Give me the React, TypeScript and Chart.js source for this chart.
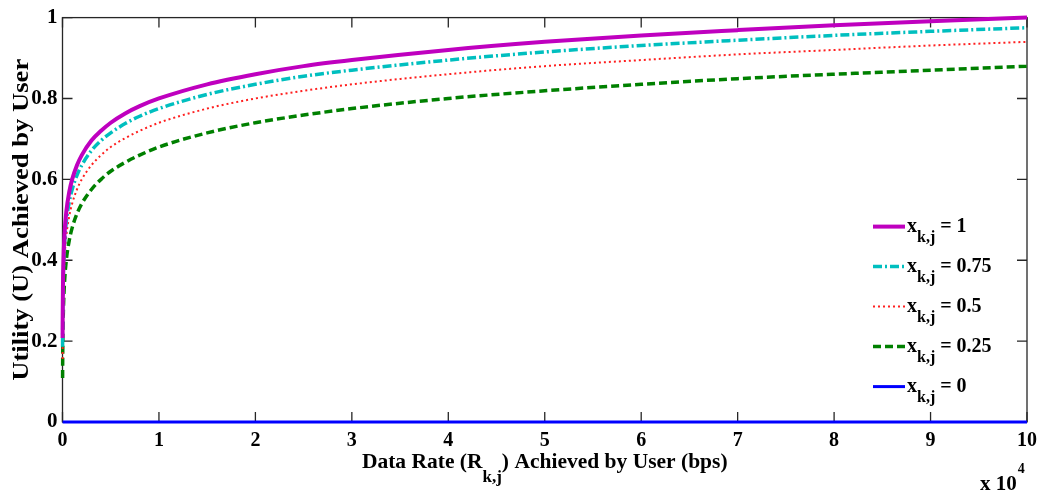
import React, { useEffect, useRef } from "react";
import { Chart, registerables } from "chart.js";

Chart.register(...registerables);

// Data rate R_{k,j} (bps) sample positions
const rates = [
  10, 20, 50, 100, 200, 400, 700, 1000, 1500, 2000, 3000, 4000, 5000, 6500, 8000,
  10000, 15000, 20000, 25000, 30000, 40000, 50000, 60000, 70000, 80000, 90000, 100000,
];

// Utility values for each x_{k,j}
const utilX100 = [
  0.208, 0.264, 0.342, 0.401, 0.461, 0.521, 0.569, 0.600, 0.635, 0.660, 0.696, 0.720, 0.740, 0.763, 0.781,
  0.800, 0.835, 0.860, 0.880, 0.895, 0.920, 0.940, 0.956, 0.969, 0.981, 0.991, 1.0,
];
const utilX075 = [
  0.186, 0.241, 0.317, 0.376, 0.436, 0.496, 0.544, 0.575, 0.610, 0.635, 0.671, 0.696, 0.715, 0.738, 0.756,
  0.775, 0.810, 0.835, 0.855, 0.870, 0.895, 0.915, 0.931, 0.944, 0.956, 0.966, 0.975,
];
const utilX050 = [
  0.156, 0.208, 0.283, 0.342, 0.401, 0.461, 0.509, 0.540, 0.575, 0.600, 0.635, 0.660, 0.680, 0.702, 0.720,
  0.740, 0.775, 0.800, 0.819, 0.835, 0.860, 0.880, 0.895, 0.909, 0.920, 0.931, 0.940,
];
const utilX025 = [
  0.109, 0.156, 0.226, 0.283, 0.342, 0.401, 0.449, 0.480, 0.515, 0.540, 0.575, 0.600, 0.620, 0.642, 0.660,
  0.680, 0.715, 0.740, 0.759, 0.775, 0.800, 0.819, 0.835, 0.849, 0.860, 0.870, 0.880,
];
const utilX000 = [
  0, 0, 0, 0, 0, 0, 0, 0, 0, 0, 0, 0, 0, 0, 0,
  0, 0, 0, 0, 0, 0, 0, 0, 0, 0, 0, 0,
];

const seriesValues = ["1", "0.75", "0.5", "0.25", "0"];
const xTickLabels = ["0", "1", "2", "3", "4", "5", "6", "7", "8", "9", "10"];
const yTickLabels = ["0", "0.2", "0.4", "0.6", "0.8", "1"];

const xTitleParts = ["Data Rate (R", "k,j", ") Achieved by User (bps)"];
const yTitle = "Utility (U) Achieved by User";

const SERIF = "'Liberation Serif', 'Times New Roman', serif";

const framePlugin = {
  id: "matlabFrame",
  beforeDatasetsDraw(chart: any) {
    const { ctx, chartArea: a, scales } = chart;
    ctx.save();
    ctx.strokeStyle = "#262626";
    ctx.lineWidth = 1.3;
    ctx.strokeRect(a.left, a.top, a.right - a.left, a.bottom - a.top);
    const tl = 10;
    ctx.beginPath();
    scales.x.ticks.forEach((t: any) => {
      const px = scales.x.getPixelForValue(t.value);
      ctx.moveTo(px, a.bottom);
      ctx.lineTo(px, a.bottom - tl);
      ctx.moveTo(px, a.top);
      ctx.lineTo(px, a.top + tl);
    });
    scales.y.ticks.forEach((t: any) => {
      const py = scales.y.getPixelForValue(t.value);
      ctx.moveTo(a.left, py);
      ctx.lineTo(a.left + tl, py);
      ctx.moveTo(a.right, py);
      ctx.lineTo(a.right - tl, py);
    });
    ctx.stroke();
    ctx.restore();
  },
};

const textPlugin = {
  id: "matlabText",
  afterDraw(chart: any) {
    const { ctx, chartArea: a } = chart;
    ctx.save();
    ctx.fillStyle = "#000";
    ctx.textBaseline = "alphabetic";
    ctx.textAlign = "left";

    // X title with subscript
    const mainFont = `bold 21.5px ${SERIF}`;
    const subFont = `bold 17px ${SERIF}`;
    ctx.font = mainFont;
    const w0 = ctx.measureText(xTitleParts[0]).width;
    const w2 = ctx.measureText(xTitleParts[2]).width;
    ctx.font = subFont;
    const w1 = ctx.measureText(xTitleParts[1]).width;
    const total = w0 + w1 + w2;
    const cx = (a.left + a.right) / 2;
    let x = cx - total / 2;
    const base = a.bottom + 46;
    ctx.font = mainFont;
    ctx.fillText(xTitleParts[0], x, base);
    x += w0;
    ctx.font = subFont;
    ctx.fillText(xTitleParts[1], x, base + 14);
    x += w1;
    ctx.font = mainFont;
    ctx.fillText(xTitleParts[2], x, base);

    // Y title rotated
    ctx.save();
    ctx.font = `bold 23px ${SERIF}`;
    const yw = ctx.measureText(yTitle).width;
    const targetLen = 322;
    ctx.translate(28, (a.top + a.bottom) / 2);
    ctx.rotate(-Math.PI / 2);
    ctx.scale(targetLen / yw, 1);
    ctx.textAlign = "center";
    ctx.fillText(yTitle, 0, 0);
    ctx.restore();

    // Exponent label x 10^4
    ctx.font = `bold 21px ${SERIF}`;
    ctx.textAlign = "left";
    const expBase = a.bottom + 68;
    const expText = "x 10";
    const ew = ctx.measureText(expText).width;
    const ex = a.right - 47;
    ctx.fillText(expText, ex, expBase);
    ctx.font = `bold 14px ${SERIF}`;
    ctx.fillText("4", ex + ew + 1, expBase - 17);

    // Legend (no box)
    const ds = chart.data.datasets;
    const lx0 = a.right - 154;
    const lx1 = a.right - 122;
    ds.forEach((d: any, i: number) => {
      const ly = a.top + 209 + i * 40;
      ctx.save();
      ctx.strokeStyle = d.borderColor;
      ctx.lineWidth = d.borderWidth;
      ctx.setLineDash(d.borderDash || []);
      ctx.beginPath();
      ctx.moveTo(lx0, ly);
      ctx.lineTo(lx1, ly);
      ctx.stroke();
      ctx.restore();
      let tx = lx1 + 2;
      ctx.font = `bold 20px ${SERIF}`;
      ctx.fillText("x", tx, ly + 5);
      tx += ctx.measureText("x").width;
      ctx.font = `bold 16px ${SERIF}`;
      ctx.fillText("k,j", tx, ly + 15);
      tx += ctx.measureText("k,j").width;
      ctx.font = `bold 20px ${SERIF}`;
      ctx.fillText(" = " + seriesValues[i], tx, ly + 5);
    });
    ctx.restore();
  },
};

export default function App() {
  const canvasRef = useRef<HTMLCanvasElement | null>(null);

  useEffect(() => {
    const canvas = canvasRef.current;
    if (!canvas) return;
    const toPts = (vals: number[]) => rates.map((r, i) => ({ x: r, y: vals[i] }));
    const chart = new Chart(canvas, {
      type: "line",
      data: {
        datasets: [
          {
            label: "x_{k,j} = " + seriesValues[0],
            data: toPts(utilX100),
            borderColor: "#bf00bf",
            borderWidth: 4,
            borderDash: [],
          },
          {
            label: "x_{k,j} = " + seriesValues[1],
            data: toPts(utilX075),
            borderColor: "#00bfbf",
            borderWidth: 3.5,
            borderDash: [9, 3, 2, 3],
          },
          {
            label: "x_{k,j} = " + seriesValues[2],
            data: toPts(utilX050),
            borderColor: "#ff2020",
            borderWidth: 2,
            borderDash: [2, 3],
          },
          {
            label: "x_{k,j} = " + seriesValues[3],
            data: toPts(utilX025),
            borderColor: "#008000",
            borderWidth: 3.5,
            borderDash: [8, 4],
          },
          {
            label: "x_{k,j} = " + seriesValues[4],
            data: toPts(utilX000),
            borderColor: "#0000ff",
            borderWidth: 3,
            borderDash: [],
          },
        ] as any,
      },
      options: {
        animation: false,
        responsive: false,
        maintainAspectRatio: false,
        parsing: true,
        layout: { padding: { top: 16, right: 14, left: 0, bottom: 0 } },
        elements: {
          point: { radius: 0, hoverRadius: 0 },
          line: { cubicInterpolationMode: "monotone", fill: false },
        },
        datasets: { line: { clip: false } as any },
        plugins: {
          legend: { display: false },
          tooltip: { enabled: false },
        },
        scales: {
          x: {
            type: "linear",
            min: 0,
            max: 100000,
            grid: { display: false, drawTicks: false },
            border: { display: false },
            ticks: {
              stepSize: 10000,
              padding: 7,
              color: "#000",
              autoSkip: false,
              maxRotation: 0,
              font: { family: SERIF, size: 20, weight: "bold" },
              callback: (v: any) => xTickLabels[Math.round(Number(v) / 10000)],
            },
            afterFit: (s: any) => {
              s.height = 72;
            },
          },
          y: {
            type: "linear",
            min: 0,
            max: 1,
            grid: { display: false, drawTicks: false },
            border: { display: false },
            ticks: {
              stepSize: 0.2,
              padding: 5,
              color: "#000",
              font: { family: SERIF, size: 21, weight: "bold" },
              callback: (v: any) => yTickLabels[Math.round(Number(v) * 5)],
            },
            afterFit: (s: any) => {
              s.width = 62.5;
            },
          },
        },
      } as any,
      plugins: [framePlugin, textPlugin],
    });
    return () => chart.destroy();
  }, []);

  return (
    <div style={{ position: "fixed", left: 0, top: 0, width: 1044, height: 494, background: "#fff" }}>
      <canvas ref={canvasRef} width={1044} height={494} style={{ width: 1044, height: 494, display: "block" }} />
    </div>
  );
}
